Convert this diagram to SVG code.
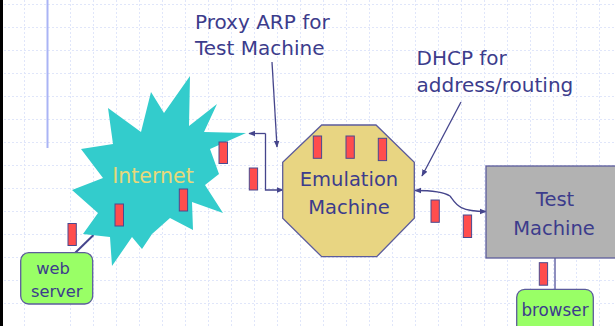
<svg xmlns="http://www.w3.org/2000/svg" width="615" height="326" viewBox="0 0 615 326">
<defs>
<style>
.grid line{stroke:#e0e6fa;stroke-width:1;stroke-dasharray:2 2}
.t{font-family:"DejaVu Sans",Verdana,sans-serif;fill:#3c3c8c;text-anchor:middle}
.lbl{font-family:"DejaVu Sans",Verdana,sans-serif;fill:#3c3c8c;font-size:20px}
.pk{fill:#ff4d4d;stroke:#4a4a90;stroke-width:1}
.ln{fill:none;stroke:#45458c;stroke-width:1.3}
</style>
<marker id="ah" viewBox="0 0 10 10" refX="9" refY="5" markerWidth="7" markerHeight="7" markerUnits="userSpaceOnUse" orient="auto">
<path d="M0,1 L10,5 L0,9 Z" fill="#45458c"/>
</marker>
</defs>
<rect width="615" height="326" fill="#ffffff"/>
<g class="grid">
<line x1="24.5" y1="0" x2="24.5" y2="326"/><line x1="70.5" y1="0" x2="70.5" y2="326"/><line x1="93.5" y1="0" x2="93.5" y2="326"/><line x1="116.5" y1="0" x2="116.5" y2="326"/><line x1="139.5" y1="0" x2="139.5" y2="326"/><line x1="162.5" y1="0" x2="162.5" y2="326"/><line x1="185.5" y1="0" x2="185.5" y2="326"/><line x1="208.5" y1="0" x2="208.5" y2="326"/><line x1="231.5" y1="0" x2="231.5" y2="326"/><line x1="254.5" y1="0" x2="254.5" y2="326"/><line x1="277.5" y1="0" x2="277.5" y2="326"/><line x1="300.5" y1="0" x2="300.5" y2="326"/><line x1="323.5" y1="0" x2="323.5" y2="326"/><line x1="346.5" y1="0" x2="346.5" y2="326"/><line x1="369.5" y1="0" x2="369.5" y2="326"/><line x1="392.5" y1="0" x2="392.5" y2="326"/><line x1="415.5" y1="0" x2="415.5" y2="326"/><line x1="438.5" y1="0" x2="438.5" y2="326"/><line x1="461.5" y1="0" x2="461.5" y2="326"/><line x1="484.5" y1="0" x2="484.5" y2="326"/><line x1="507.5" y1="0" x2="507.5" y2="326"/><line x1="530.5" y1="0" x2="530.5" y2="326"/><line x1="553.5" y1="0" x2="553.5" y2="326"/><line x1="576.5" y1="0" x2="576.5" y2="326"/><line x1="599.5" y1="0" x2="599.5" y2="326"/>
<line x1="0" y1="4.5" x2="615" y2="4.5"/><line x1="0" y1="27.5" x2="615" y2="27.5"/><line x1="0" y1="50.5" x2="615" y2="50.5"/><line x1="0" y1="73.5" x2="615" y2="73.5"/><line x1="0" y1="96.5" x2="615" y2="96.5"/><line x1="0" y1="119.5" x2="615" y2="119.5"/><line x1="0" y1="142.5" x2="615" y2="142.5"/><line x1="0" y1="165.5" x2="615" y2="165.5"/><line x1="0" y1="188.5" x2="615" y2="188.5"/><line x1="0" y1="211.5" x2="615" y2="211.5"/><line x1="0" y1="234.5" x2="615" y2="234.5"/><line x1="0" y1="257.5" x2="615" y2="257.5"/><line x1="0" y1="280.5" x2="615" y2="280.5"/><line x1="0" y1="303.5" x2="615" y2="303.5"/>
</g>
<rect x="0" y="0" width="3" height="326" fill="#000000"/>
<line x1="47.5" y1="0" x2="47.5" y2="148" stroke="#aab4f5" stroke-width="2"/>

<g id="connectors">
<line class="ln" x1="272" y1="62" x2="277" y2="147" marker-end="url(#ah)"/>
<polyline class="ln" points="265.5,133.5 265.5,190 283,190" marker-end="url(#ah)"/>
<line class="ln" x1="265.5" y1="133.5" x2="249" y2="133.5" marker-end="url(#ah)"/>
<line class="ln" x1="461" y1="102" x2="422" y2="176" marker-end="url(#ah)"/>
<path class="ln" d="M450,196 C444,192 430,190.5 415,190.5" marker-end="url(#ah)"/>
<path class="ln" d="M450,196 C456,204 458,211.5 486,211.5" marker-end="url(#ah)"/>
<line x1="75" y1="253" x2="93.5" y2="235" stroke="#45458c" stroke-width="2"/>
<line x1="555" y1="258" x2="555" y2="290" stroke="#6a6aa8" stroke-width="1.5"/>
</g>

<g id="internet">
<polygon points="190,76 189,126 217,104 204,132 246,133 210,149 219,174 205,185 223,213 192,202 193,230 170,218 152,234 142,249 132,237 112,266 110,237 83,234 98,213 72,190 103,178 81,149 113,144 108,108 141,132 151,92 164,113" fill="#33cccc"/>
<text x="153" y="183" font-family="DejaVu Sans,Verdana,sans-serif" font-size="20.5" fill="#e8d87a" text-anchor="middle">Internet</text>
</g>

<g id="emulation-machine">
<polygon points="321.7,125 376,125 414.3,162.3 414.3,218.3 376.7,256.7 321.7,256.7 282.7,218.3 282.7,162.3" fill="#e8d582" stroke="#5c5c9c" stroke-width="1.3"/>
<text class="t" x="349" y="186" font-size="19.5">Emulation</text>
<text class="t" x="349" y="214" font-size="19.5">Machine</text>
</g>

<g id="test-machine">
<rect x="486" y="166" width="134" height="92" fill="#b2b2b2" stroke="#5c5c9c" stroke-width="1.3"/>
<text class="t" x="555" y="206" font-size="19.5">Test</text>
<text class="t" x="554" y="235" font-size="19.5">Machine</text>
</g>

<g id="web-server">
<rect x="20.7" y="252.7" width="72" height="51.3" rx="8" fill="#99ff66" stroke="#5c5c9c" stroke-width="1.3"/>
<text class="t" x="53" y="274" font-size="16.3">web</text>
<text class="t" x="56.7" y="297" font-size="16.3">server</text>
</g>

<g id="browser">
<rect x="516.7" y="289.3" width="76.6" height="45" rx="8" fill="#99ff66" stroke="#5c5c9c" stroke-width="1.3"/>
<text class="t" x="555" y="316" font-size="16.8">browser</text>
</g>

<g id="label-proxy-arp">
<text class="lbl" x="195" y="29">Proxy ARP for</text>
<text class="lbl" x="195" y="55">Test Machine</text>
</g>

<g id="label-dhcp">
<text class="lbl" x="416.5" y="65">DHCP for</text>
<text class="lbl" x="416.5" y="91.5">address/routing</text>
</g>

<g id="packets">
<rect class="pk" x="219" y="142" width="8.5" height="21.5"/>
<rect class="pk" x="249.3" y="168" width="8.3" height="22"/>
<rect class="pk" x="179.3" y="189" width="8.3" height="22"/>
<rect class="pk" x="115" y="204" width="8.5" height="22"/>
<rect class="pk" x="68" y="223.5" width="8.3" height="22"/>
<rect class="pk" x="313.3" y="136" width="8.3" height="22.3"/>
<rect class="pk" x="346" y="136" width="8.3" height="22.3"/>
<rect class="pk" x="378.3" y="138.3" width="8.3" height="22.3"/>
<rect class="pk" x="431" y="200" width="8.3" height="22.3"/>
<rect class="pk" x="463.3" y="215" width="8.3" height="22.5"/>
<rect class="pk" x="539.3" y="262.7" width="8.3" height="22.5"/>
</g>
</svg>
